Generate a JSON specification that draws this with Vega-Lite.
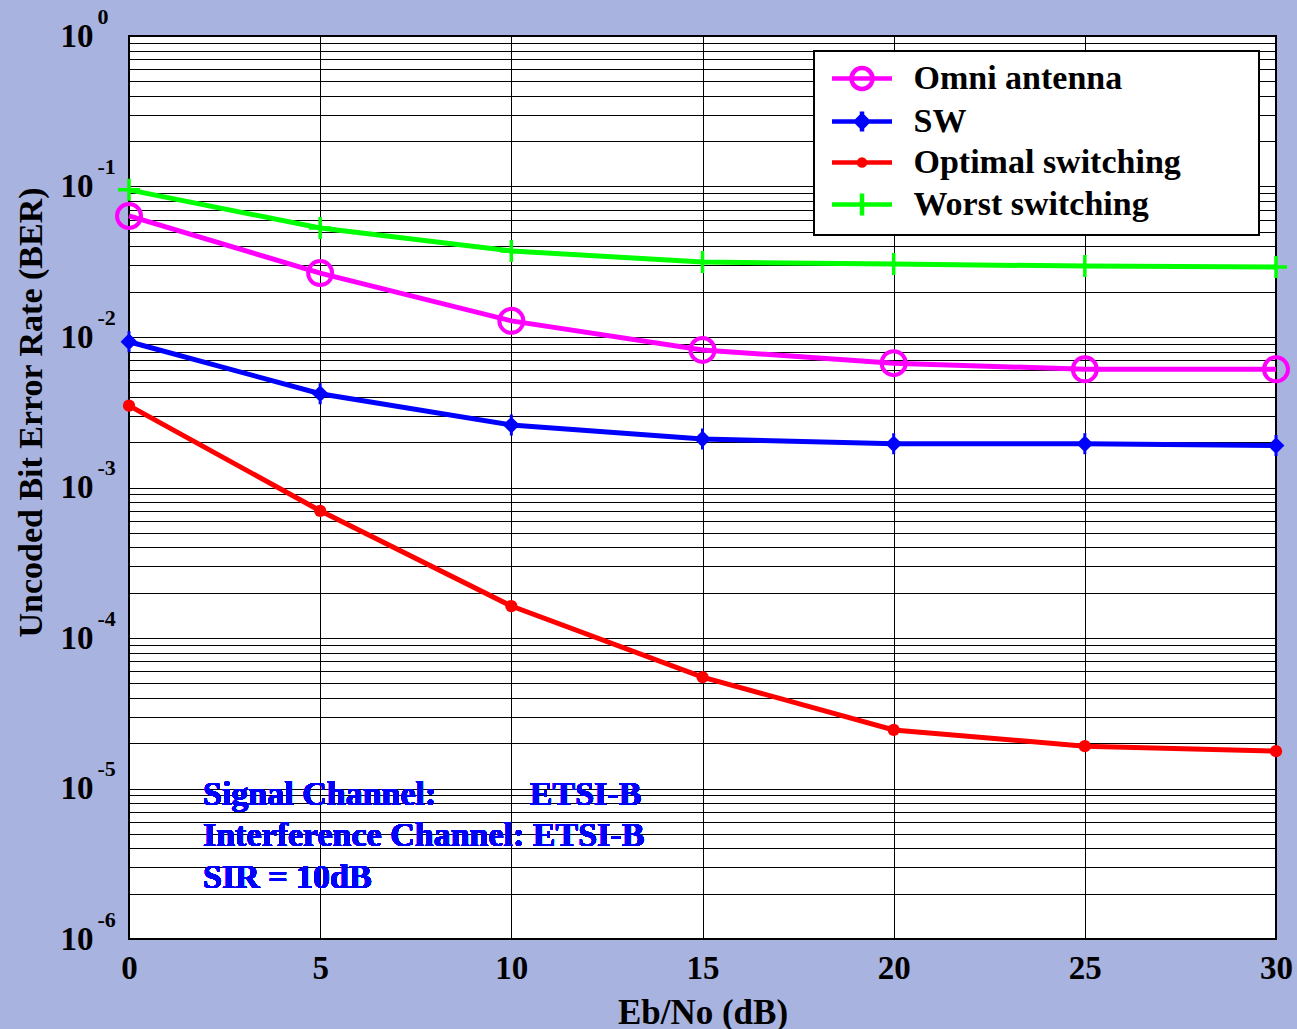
{
  "$schema": "https://vega.github.io/schema/vega-lite/v6.json",
  "width": 1147,
  "height": 903,
  "autosize": "none",
  "padding": {"left": 129, "top": 36, "right": 21, "bottom": 90},
  "background": "#a9b3e0",
  "config": {
    "font": "Liberation Serif",
    "view": {"fill": "white", "stroke": "black", "strokeWidth": 2},
    "legend": {
      "labelFont": "Liberation Serif",
      "labelFontSize": 34,
      "labelFontWeight": "bold",
      "labelColor": "black",
      "labelLimit": 1000,
      "labelOffset": 34,
      "symbolOffset": 20.5,
      "symbolSize": 900,
      "symbolStrokeWidth": 4.5,
      "symbolOpacity": 1,
      "rowPadding": 4,
      "padding": 10,
      "fillColor": "white",
      "strokeColor": "black",
      "strokeWidth": 2
    }
  },
  "data": {
    "values": [
      {"series": "Omni antenna", "ebno": 0, "ber": 0.0637},
      {"series": "Omni antenna", "ebno": 5, "ber": 0.0266},
      {"series": "Omni antenna", "ebno": 10, "ber": 0.0128},
      {"series": "Omni antenna", "ebno": 15, "ber": 0.0082},
      {"series": "Omni antenna", "ebno": 20, "ber": 0.0067},
      {"series": "Omni antenna", "ebno": 25, "ber": 0.0061},
      {"series": "Omni antenna", "ebno": 30, "ber": 0.0061},
      {"series": "SW", "ebno": 0, "ber": 0.0093},
      {"series": "SW", "ebno": 5, "ber": 0.0042},
      {"series": "SW", "ebno": 10, "ber": 0.0026},
      {"series": "SW", "ebno": 15, "ber": 0.0021},
      {"series": "SW", "ebno": 20, "ber": 0.00195},
      {"series": "SW", "ebno": 25, "ber": 0.00195},
      {"series": "SW", "ebno": 30, "ber": 0.0019},
      {"series": "Optimal switching", "ebno": 0, "ber": 0.0035},
      {"series": "Optimal switching", "ebno": 5, "ber": 0.0007},
      {"series": "Optimal switching", "ebno": 10, "ber": 0.000163},
      {"series": "Optimal switching", "ebno": 15, "ber": 0.000055},
      {"series": "Optimal switching", "ebno": 20, "ber": 0.0000245},
      {"series": "Optimal switching", "ebno": 25, "ber": 0.0000191},
      {"series": "Optimal switching", "ebno": 30, "ber": 0.0000177},
      {"series": "Worst switching", "ebno": 0, "ber": 0.095},
      {"series": "Worst switching", "ebno": 5, "ber": 0.053},
      {"series": "Worst switching", "ebno": 10, "ber": 0.0373},
      {"series": "Worst switching", "ebno": 15, "ber": 0.0315},
      {"series": "Worst switching", "ebno": 20, "ber": 0.0305},
      {"series": "Worst switching", "ebno": 25, "ber": 0.0296},
      {"series": "Worst switching", "ebno": 30, "ber": 0.0292}
    ]
  },
  "resolve": {"axis": {"y": "independent"}},
  "layer": [
    {
      "mark": {"type": "line", "strokeWidth": 5},
      "encoding": {
        "x": {
          "field": "ebno", "type": "quantitative",
          "scale": {"domain": [0, 30], "nice": false},
          "axis": {
            "values": [0, 5, 10, 15, 20, 25, 30],
            "title": "Eb/No (dB)",
            "titleFont": "Liberation Serif",
            "titleFontSize": 35,
            "titleFontWeight": "bold",
            "titleColor": "black",
            "titleBaseline": "alphabetic",
            "titleY": 84,
            "labelFont": "Liberation Serif",
            "labelFontSize": 33,
            "labelFontWeight": "bold",
            "labelColor": "black",
            "labelPadding": 13,
            "labelFlush": false,
            "labelOverlap": false,
            "ticks": false,
            "domain": false,
            "grid": true,
            "gridColor": "black",
            "gridOpacity": 1,
            "gridWidth": 1
          }
        },
        "y": {
          "field": "ber", "type": "quantitative",
          "scale": {"type": "log", "domain": [0.000001, 1], "nice": false},
          "axis": {
            "values": [0.000001, 0.000002, 0.000003, 0.000004, 0.000005, 0.000006, 0.000007, 0.000008, 0.000009,
                       0.00001, 0.00002, 0.00003, 0.00004, 0.00005, 0.00006, 0.00007, 0.00008, 0.00009,
                       0.0001, 0.0002, 0.0003, 0.0004, 0.0005, 0.0006, 0.0007, 0.0008, 0.0009,
                       0.001, 0.002, 0.003, 0.004, 0.005, 0.006, 0.007, 0.008, 0.009,
                       0.01, 0.02, 0.03, 0.04, 0.05, 0.06, 0.07, 0.08, 0.09,
                       0.1, 0.2, 0.3, 0.4, 0.5, 0.6, 0.7, 0.8, 0.9, 1],
            "labelExpr": "abs(log(datum.value)/LN10 - round(log(datum.value)/LN10)) < 0.001 ? '10' : ''",
            "title": "Uncoded Bit Error Rate (BER)",
            "titleFont": "Liberation Serif",
            "titleFontSize": 34,
            "titleFontWeight": "bold",
            "titleColor": "black",
            "titleBaseline": "alphabetic",
            "titleX": -88,
            "titleY": 376,
            "labelFont": "Liberation Serif",
            "labelFontSize": 33,
            "labelFontWeight": "bold",
            "labelColor": "black",
            "labelPadding": 36,
            "labelBaseline": "middle",
            "labelOverlap": false,
            "labelFlush": false,
            "ticks": false,
            "domain": false,
            "grid": true,
            "gridColor": "black",
            "gridOpacity": 1,
            "gridWidth": 1
          }
        },
        "stroke": {
          "field": "series", "type": "nominal",
          "scale": {
            "domain": ["Omni antenna", "SW", "Optimal switching", "Worst switching"],
            "range": ["#ff00ff", "#0000ff", "#ff0000", "#00ff00"]
          },
          "legend": {
            "title": null, "orient": "none", "legendX": 685, "legendY": 15,
            "labelExpr": "datum.label + '\u00a0\u00a0\u00a0\u00a0\u00a0\u00a0\u00a0\u00a0\u200b'"
          }
        }
      }
    },
    {
      "transform": [{"filter": "datum.series === 'Omni antenna'"}],
      "mark": {"type": "point", "shape": "circle", "filled": false, "size": 576, "strokeWidth": 4, "stroke": "#ff00ff", "opacity": 1},
      "encoding": {
        "x": {"field": "ebno", "type": "quantitative"},
        "y": {
          "field": "ber", "type": "quantitative",
          "axis": {
            "values": [0.000001, 0.00001, 0.0001, 0.001, 0.01, 0.1, 1],
            "labelExpr": "'' + round(log(datum.value)/LN10)",
            "orient": "left",
            "title": null,
            "labelFont": "Liberation Serif",
            "labelFontSize": 22,
            "labelFontWeight": "bold",
            "labelColor": "black",
            "labelAlign": "left",
            "labelBaseline": "middle",
            "labelPadding": 32,
            "labelOffset": -20,
            "labelOverlap": false,
            "labelFlush": false,
            "ticks": false,
            "domain": false,
            "grid": false
          }
        }
      }
    },
    {
      "transform": [{"filter": "datum.series === 'SW'"}],
      "mark": {"type": "point", "shape": "M0,-1V1M-0.6,0L0,-0.6L0.6,0L0,0.6Z", "filled": true, "size": 441, "fill": "#0000ff", "stroke": "#0000ff", "strokeWidth": 3, "opacity": 1},
      "encoding": {
        "x": {"field": "ebno", "type": "quantitative"},
        "y": {"field": "ber", "type": "quantitative", "axis": null}
      }
    },
    {
      "transform": [{"filter": "datum.series === 'Optimal switching'"}],
      "mark": {"type": "point", "shape": "circle", "filled": true, "size": 150, "fill": "#ff0000", "opacity": 1},
      "encoding": {
        "x": {"field": "ebno", "type": "quantitative"},
        "y": {"field": "ber", "type": "quantitative", "axis": null}
      }
    },
    {
      "transform": [{"filter": "datum.series === 'Worst switching'"}],
      "mark": {"type": "point", "shape": "M-1,0H1M0,-1V1", "filled": false, "size": 484, "stroke": "#00ff00", "strokeWidth": 3.5, "opacity": 1},
      "encoding": {
        "x": {"field": "ebno", "type": "quantitative"},
        "y": {"field": "ber", "type": "quantitative", "axis": null}
      }
    },
    {
      "transform": [{"filter": "false"}],
      "mark": {"type": "point", "filled": false, "size": 900, "strokeWidth": 4.5},
      "encoding": {
        "x": {"field": "ebno", "type": "quantitative"},
        "y": {"field": "ber", "type": "quantitative", "axis": null},
        "shape": {
          "field": "series", "type": "nominal",
          "scale": {
            "domain": ["Omni antenna", "SW", "Optimal switching", "Worst switching"],
            "range": [
              "M-2,0H2M0.7,0A0.7,0.7 0 1,1 -0.7,0A0.7,0.7 0 1,1 0.7,0",
              "M-2,0H2M0,-0.67V0.67M-0.4,0L0,-0.4L0.4,0L0,0.4Z",
              "M-2,0H2M0.2,0A0.2,0.2 0 1,1 -0.2,0A0.2,0.2 0 1,1 0.2,0",
              "M-2,0H2M0,-0.73V0.73"
            ]
          },
          "legend": {
            "title": null, "orient": "none", "legendX": 685, "legendY": 15,
            "labelExpr": "datum.label + '\u00a0\u00a0\u00a0\u00a0\u00a0\u00a0\u00a0\u00a0\u200b'"
          }
        },
        "stroke": {
          "field": "series", "type": "nominal",
          "legend": {
            "title": null, "orient": "none", "legendX": 685, "legendY": 15,
            "labelExpr": "datum.label + '\u00a0\u00a0\u00a0\u00a0\u00a0\u00a0\u00a0\u00a0\u200b'"
          }
        }
      }
    },
    {
      "mark": {
        "type": "text",
        "text": ["Signal Channel:\u00a0\u00a0\u00a0\u00a0\u00a0\u00a0\u00a0\u00a0\u00a0\u00a0 ETSI-B", "Interference Channel: ETSI-B", "SIR = 10dB"],
        "align": "left",
        "baseline": "alphabetic",
        "lineHeight": 41.5,
        "font": "Liberation Serif",
        "fontSize": 34,
        "fontWeight": "bold",
        "color": "#0000ff"
      },
      "encoding": {
        "x": {"datum": 1.935},
        "y": {"datum": 0.00000777, "axis": null}
      }
    }
  ]
}
